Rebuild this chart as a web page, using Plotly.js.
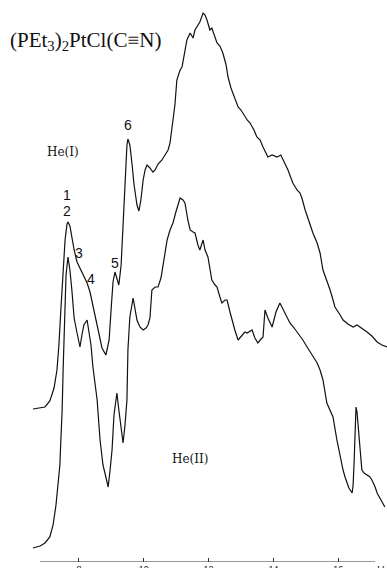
<!DOCTYPE html>
<html>
<head>
<meta charset="utf-8">
<script src="https://cdn.plot.ly/plotly-3.0.1.min.js"></script>
<style>html,body{margin:0;padding:0;background:#fff;}#chart{width:387px;height:568px;}</style>
</head>
<body>
<div id="chart"></div>
<script>
// He(I) spectrum: ionization energy (eV) and intensity (arb. units)
const heI_eV = [6.58,6.95,7.10,7.23,7.32,7.38,7.44,7.51,7.57,7.63,7.66,7.72,7.78,7.85,7.94,8.03,8.15,8.25,8.34,8.46,8.59,8.71,8.83,8.93,8.99,9.05,9.11,9.17,9.23,9.30,9.36,9.42,9.48,9.51,9.57,9.64,9.70,9.79,9.85,9.91,9.98,10.04,10.10,10.19,10.28,10.35,10.44,10.56,10.65,10.75,10.81,10.90,10.96,11.02,11.12,11.18,11.27,11.33,11.43,11.52,11.58,11.67,11.73,11.83,11.89,11.95,12.04,12.10,12.20,12.26,12.35,12.44,12.54,12.60,12.69,12.75,12.81,12.91,13.00,13.06,13.19,13.28,13.40,13.49,13.59,13.68,13.83,13.96,14.11,14.23,14.30,14.45,14.60,14.73,14.82,14.88,14.98,15.13,15.22,15.35,15.44,15.53,15.65,15.75,15.84,15.90,16.06,16.15,16.30,16.46,16.58,16.73,16.89,17.04,17.20,17.35,17.51];
const heI_int = [153,155,161,174,192,217,252,292,322,338,340,336,324,312,300,294,286,279,270,252,232,214,207,222,252,280,290,282,277,297,342,387,417,423,417,397,377,357,351,362,382,392,397,394,390,392,398,402,407,412,419,442,457,482,492,495,510,522,529,524,532,537,540,549,547,542,532,534,524,519,516,509,497,485,474,469,462,455,452,449,442,439,432,425,422,415,405,407,405,407,402,392,379,372,369,364,352,337,329,319,309,292,282,272,262,255,247,242,238,235,237,234,230,226,220,217,215];

// He(II) spectrum
const heII_eV = [6.58,6.80,6.95,7.10,7.20,7.29,7.35,7.41,7.44,7.48,7.51,7.54,7.57,7.60,7.66,7.72,7.78,7.85,7.94,8.03,8.09,8.15,8.25,8.31,8.37,8.43,8.49,8.56,8.65,8.74,8.80,8.90,8.96,9.02,9.08,9.14,9.17,9.23,9.30,9.36,9.42,9.48,9.51,9.57,9.67,9.73,9.79,9.88,9.98,10.07,10.13,10.19,10.25,10.35,10.44,10.53,10.59,10.65,10.72,10.81,10.90,10.99,11.06,11.12,11.21,11.27,11.36,11.43,11.52,11.58,11.67,11.73,11.83,11.89,11.98,12.04,12.10,12.20,12.26,12.35,12.41,12.51,12.57,12.66,12.72,12.81,12.91,13.03,13.12,13.19,13.28,13.34,13.43,13.52,13.62,13.68,13.74,13.83,13.96,14.08,14.20,14.36,14.51,14.64,14.76,14.91,15.04,15.19,15.35,15.44,15.53,15.65,15.75,15.84,15.96,16.06,16.15,16.21,16.33,16.43,16.46,16.49,16.52,16.55,16.58,16.61,16.67,16.73,16.80,16.89,16.98,17.04,17.14,17.20,17.32,17.44];
const heII_int = [14,16,19,25,37,57,77,97,122,152,192,232,262,287,305,292,272,244,229,215,227,237,242,230,217,195,177,162,122,97,89,75,92,112,147,164,169,152,132,119,137,162,212,245,264,254,242,235,232,234,237,244,272,275,275,284,295,310,322,332,339,350,357,364,362,359,342,332,330,329,317,312,322,312,305,292,282,277,275,265,259,262,262,250,242,232,222,226,230,229,231,232,224,219,223,225,252,244,235,250,259,249,239,234,229,222,215,207,199,192,182,159,152,145,122,105,92,85,74,69,77,99,132,155,150,139,117,92,89,87,85,82,75,69,62,55];

const tickVals = [8,10,12,14,16];
const tickText = ['8','10','12','14','16'];
const bandLabels = ['1','2','3','4','5','6'];
const bandLabelEV = [7.63,7.63,8.00,8.37,9.11,9.51];
const bandLabelInt = [367,351,309,283,299,437];

const traces = [
  {x: heI_eV, y: heI_int, mode:'lines', line:{color:'#111', width:1.2}, hoverinfo:'skip'},
  {x: heII_eV, y: heII_int, mode:'lines', line:{color:'#111', width:1.2}, hoverinfo:'skip'}
];

const annotations = [
  {x:8.19, y:521, xref:'x', yref:'y', showarrow:false,
   text:'(PEt<sub>3</sub>)<sub>2</sub>PtCl(C≡N)', font:{family:'Liberation Serif, serif', size:21, color:'#111'}},
  {x:7.50, y:410, xref:'x', yref:'y', showarrow:false, text:'He(I)', font:{family:'DejaVu Serif, serif', size:12, color:'#111'}},
  {x:11.43, y:103, xref:'x', yref:'y', showarrow:false, text:'He(II)', font:{family:'DejaVu Serif, serif', size:12, color:'#111'}},
  {x:17.23, y:0, xref:'x', yref:'y', yanchor:'top', yshift:-1, showarrow:false, text:'eV', font:{family:'Liberation Sans, sans-serif', size:10, color:'#111'}}
];
bandLabels.forEach((t,i)=>annotations.push({x:bandLabelEV[i], y:bandLabelInt[i], xref:'x', yref:'y', showarrow:false, text:t,
  font:{family:'Liberation Sans, Arial, sans-serif', size:14, color:'#111'}}));

const layout = {
  width:387, height:568,
  margin:{l:0, r:0, t:0, b:6},
  paper_bgcolor:'#fff', plot_bgcolor:'#fff',
  showlegend:false,
  xaxis:{range:[5.562,17.506], showgrid:false, zeroline:false, showline:false,
    tickmode:'array', tickvals:tickVals, ticktext:tickText, ticks:'inside', ticklen:4, tickcolor:'#333', tickwidth:1,
    tickfont:{family:'Liberation Sans, sans-serif', size:9, color:'#222'}},
  yaxis:{range:[0,562], visible:false, showgrid:false, zeroline:false},
  shapes:[{type:'line', xref:'x', yref:'y', x0:6.80, x1:17.14, y0:0, y1:0, line:{color:'#333', width:1.2}}],
  annotations: annotations
};

Plotly.newPlot('chart', traces, layout, {displayModeBar:false, staticPlot:true});
</script>
</body>
</html>
